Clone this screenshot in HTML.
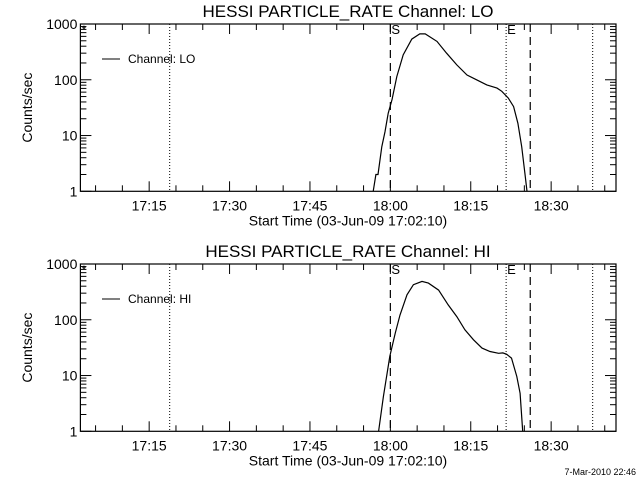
<!DOCTYPE html>
<html><head><meta charset="utf-8"><style>
html,body{margin:0;padding:0;background:#fff;}
svg{display:block;font-family:"Liberation Sans",sans-serif;}
</style></head><body>
<svg id="chart" width="640" height="480" viewBox="0 0 640 480"></svg>
<script>
// minutes after 17:00
const loTimes = [56.8,57.3,57.7,58.4,59.0,59.6,60.3,61.2,62.4,64.0,65.5,66.5,68.7,70.5,72.4,74.3,76.1,78.0,79.9,80.8,82.0,83.0,83.8,84.5,85.1,85.5];
const loValues = [1,2.0,2.0,6.3,11.7,25,44,114,280,535,665,665,487,300,185,122,100,81,71,62,47,33,16.6,6.3,2.1,1];
const hiTimes = [57.8,58.7,59.9,60.9,61.8,63.1,64.3,65.9,67.1,69.0,70.8,72.4,73.9,75.5,77.1,78.6,80.2,81.0,81.7,82.6,83.6,84.2,84.7];
const hiValues = [1,4.2,22,57,122,280,425,487,455,340,185,114,66,44,31,27,25,25.5,24,20.5,9.6,4.8,1];
const xTickLabels = ["17:15","17:30","17:45","18:00","18:15","18:30"];
const xTickMinutes = [15,30,45,60,75,90];
const yTickValues = [1,10,100,1000];
const yTickLabels = ["1","10","100","1000"];
const dottedTimes = [18.83,81.6,97.75];
const dashedTimes = [60.0,86.1];

const NS="http://www.w3.org/2000/svg";
const svg=document.getElementById('chart');
const X0=80.4,X1=616,T0=2.17,T1=102.1;
function xs(t){return X0+(t-T0)*(X1-X0)/(T1-T0);}
function mk(tag,attrs,parent){const e=document.createElementNS(NS,tag);for(const k in attrs)e.setAttribute(k,attrs[k]);(parent||svg).appendChild(e);return e;}
function txt(s,x,y,size,anchor,parent){const e=mk('text',{x:x,y:y,'font-size':size,'text-anchor':anchor||'middle',fill:'#000'},parent);e.textContent=s;return e;}

function panel(off,name,times,values){
  const top=24+off,bot=191.3+off,dec=(bot-top)/3;
  const ys=v=>bot-Math.log10(v)*dec;
  const g=mk('g',{});
  
  
  const title=txt('HESSI PARTICLE_RATE Channel: '+name,348,top-7,17,'middle',g);
  
  
  const fr=mk('rect',{x:X0,y:top,width:X1-X0,height:bot-top,fill:'none',stroke:'#000','stroke-width':1.2},g);
  
  
  // x ticks
  for(let m=5;m<T1;m+=5){
    const x=xs(m),L=(m%15===0)?10:6;
    mk('line',{x1:x,x2:x,y1:bot,y2:bot-L,stroke:'#000'},g);
    mk('line',{x1:x,x2:x,y1:top,y2:top+L,stroke:'#000'},g);
  }
  xTickLabels.forEach((s,i)=>{const e=txt(s,xs(xTickMinutes[i]),bot+19,14,'middle',g);
    
    });
  const xt=txt('Start Time (03-Jun-09 17:02:10)',348,bot+34,14,'middle',g);
  
  
  // y ticks
  for(let d=0;d<3;d++)for(let k=1;k<=9;k++){
    const y=ys(Math.pow(10,d)*k),L=k===1?11:6;
    mk('line',{x1:X0,x2:X0+L,y1:y,y2:y,stroke:'#000'},g);
    mk('line',{x1:X1,x2:X1-L,y1:y,y2:y,stroke:'#000'},g);
  }
  yTickValues.forEach((v,i)=>{const e=txt(yTickLabels[i],X0-3,ys(v)+5,14,'end',g);
    
    });
  const yt=txt('Counts/sec',0,0,14,'middle',g);
  yt.setAttribute('transform','translate(32,'+((top+bot)/2)+') rotate(-90)');
  
  
  // star marker
  txt('*',84,top+10,12,'middle',g);
  // vertical lines
  dottedTimes.forEach(t=>{const l=mk('line',{x1:xs(t),x2:xs(t),y1:top,y2:bot,stroke:'#000','stroke-dasharray':'1,2'},g);
    
    });
  dashedTimes.forEach(t=>{const l=mk('line',{x1:xs(t),x2:xs(t),y1:top,y2:bot,stroke:'#000','stroke-width':1.2,'stroke-dasharray':'8,5'},g);
    
    });
  const s=txt('S',xs(dashedTimes[0])+1,top+10,13,'start',g);
  
  
  const e=txt('E',xs(dottedTimes[1])+1,top+10,13,'start',g);
  
  
  // legend
  const ly=top+35;
  const lg=mk('g',{},g);
  
  
  mk('line',{x1:102,x2:120,y1:ly,y2:ly,stroke:'#000'},lg);
  txt('Channel: '+name,128,ly+4,12,'start',lg);
  // series
  const pts=times.map((t,i)=>xs(t).toFixed(1)+','+ys(values[i]).toFixed(1)).join(' ');
  const pl=mk('polyline',{points:pts,fill:'none',stroke:'#000','stroke-width':1.2},g);
  
  
}
panel(0,'LO',loTimes,loValues);
panel(240,'HI',hiTimes,hiValues);
const f=txt('7-Mar-2010 22:46',636,475,9,'end');


</script>
</body></html>
